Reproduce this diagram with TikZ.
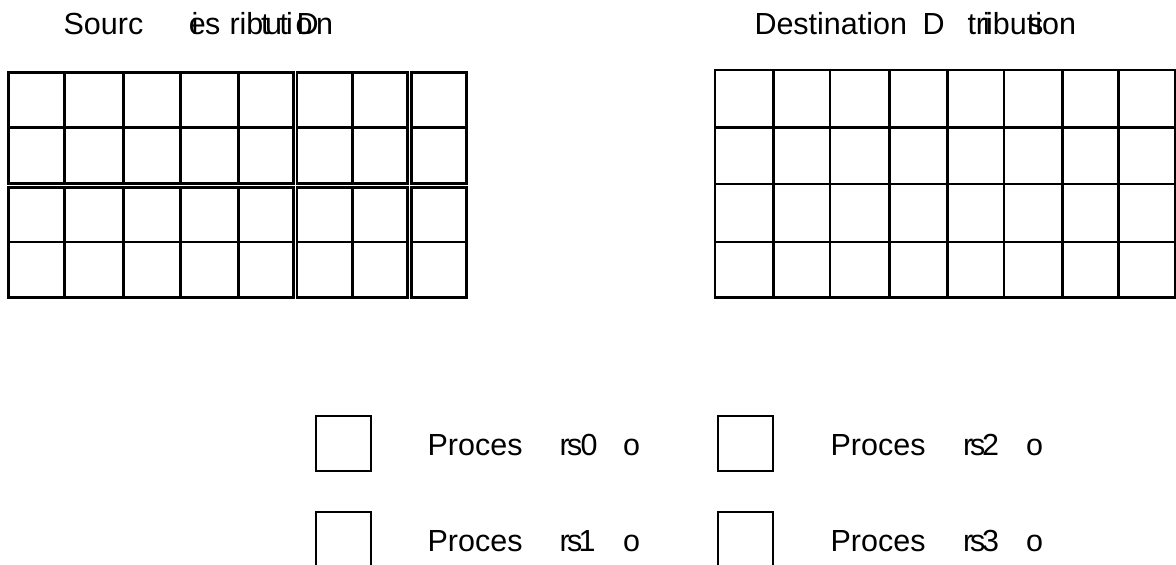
\documentclass[tikz,border=0pt]{standalone}
\usepackage{fontspec}
\setmainfont{Liberation Sans}
\begin{document}
\begin{tikzpicture}[x=1pt,y=-1pt,
  cell/.style={draw=black,line width=2.5pt},
  lbl/.style={anchor=base west,inner sep=0pt,outer sep=0pt,font=\fontsize{30.5}{36}\selectfont},
  keybox/.style={draw=black,line width=2.2pt,minimum size=55pt,inner sep=0pt}]
\useasboundingbox (0,0) rectangle (1176,565);
\clip (0,0) rectangle (1176,565);
% source grid (blocks with small gaps)
\foreach \xa/\xb in {8.3/64.3,64.3/123.3,123.3/180.3,180.3/238.3,238.3/293.3,297.2/352.3,352.3/407.5,411.6/466.7}
  \foreach \ya/\yb in {72.3/127.7,127.7/183.4,187.3/242,242/297.3}
    \draw[cell] (\xa,\ya) rectangle (\xb,\yb);
% destination grid
\foreach \xa/\xb in {715/773.3,773.3/830,830/889.3,889.3/947.7,947.7/1004,1004/1062.3,1062.3/1118.3,1118.3/1174.8}
  \foreach \ya/\yb in {70/127.7,127.7/184,184/242,242/297.7}
    \draw[cell] (\xa,\ya) rectangle (\xb,\yb);
% source title (glyphs as printed)
\node[lbl] (s1) at (63.6,34.3) {Sourc};
\node[lbl] (s2) at (188.8,34.3) {e};
\node[lbl] (s3) at (191.7,34.3) {i};
\node[lbl] (s4) at (205,34.3) {s};
\node[lbl] (s5) at (229.5,34.3) {rib};
\node[lbl] (s6) at (261.2,34.3) {t};
\node[lbl] (s7) at (265,34.3) {u};
\node[lbl] (s8) at (279.5,34.3) {t};
\node[lbl] (s9) at (286,34.3) {i};
\node[lbl] (s10) at (295.5,34.3) {o};
\node[lbl] (s11) at (296.5,34.3) {D};
\node[lbl] (s12) at (316,34.3) {n};
% destination title
\node[lbl] (d1) at (754.5,34.3) {Destination};
\node[lbl] (d2) at (922.6,34.3) {D};
\node[lbl] (d3) at (967.5,34.3) {tribution};
\node[lbl] (d4) at (983,34.3) {i};
\node[lbl] (d5) at (1028,34.3) {s};
% legend boxes
\node[keybox] (k0) at (343.5,443.5) {};
\node[keybox] (k1) at (343.5,539.5) {};
\node[keybox] (k2) at (745.5,443.5) {};
\node[keybox] (k3) at (745.5,539.5) {};
% legend texts
\node[lbl] (p0a) at (427.6,455) {Proces};
\node[lbl] (p0b) at (559.7,455) {r};
\node[lbl] (p0c) at (567,455) {s};
\node[lbl] (p0d) at (580.7,455) {0};
\node[lbl] (p0e) at (623,455) {o};
\node[lbl] (p1a) at (427.6,551.7) {Proces};
\node[lbl] (p1b) at (559.7,551.7) {r};
\node[lbl] (p1c) at (567,551.7) {s};
\node[lbl] (p1d) at (578.5,551.7) {1};
\node[lbl] (p1e) at (623,551.7) {o};
\node[lbl] (p2a) at (830.6,455) {Proces};
\node[lbl] (p2b) at (963,455) {r};
\node[lbl] (p2c) at (970,455) {s};
\node[lbl] (p2d) at (982,455) {2};
\node[lbl] (p2e) at (1026,455) {o};
\node[lbl] (p3a) at (830.6,551.7) {Proces};
\node[lbl] (p3b) at (963,551.7) {r};
\node[lbl] (p3c) at (970,551.7) {s};
\node[lbl] (p3d) at (982,551.7) {3};
\node[lbl] (p3e) at (1026,551.7) {o};
\end{tikzpicture}
\end{document}
